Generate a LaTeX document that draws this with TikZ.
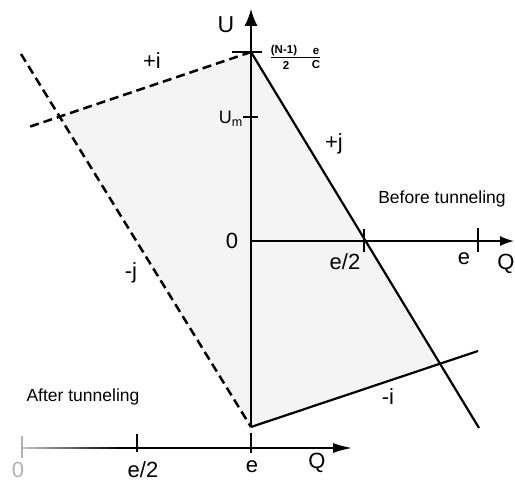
\documentclass[tikz,border=0pt]{standalone}
\usepackage{fontspec}
\setmainfont{Liberation Sans}
\usetikzlibrary{arrows.meta}
\begin{document}
\begin{tikzpicture}[x=1pt,y=-1pt,
  solidline/.style={line width=2.2pt,black},
  dashline/.style={line width=2.5pt,black,dash pattern=on 9pt off 5pt},
  axis/.style={line width=1.6pt,black},
  tickmark/.style={line width=1.6pt,black},
  lbl/.style={font=\fontsize{22}{24}\selectfont,inner sep=0pt},
  phrase/.style={font=\fontsize{17.5}{20}\selectfont,inner sep=0pt},
  frac/.style={font=\fontsize{11.5}{13}\selectfont\bfseries,inner sep=0pt}]
\useasboundingbox (0,0) rectangle (515,487);
% key points
\coordinate (T) at (251,52);
\coordinate (X) at (60,116);
\coordinate (B) at (251,427);
\coordinate (R) at (438,364);
\coordinate (jEnd) at (479,428);
\coordinate (iEnd) at (478,351);
\coordinate (jdStart) at (21,54);
\coordinate (idEnd) at (26,128);
\coordinate (O) at (251,241);
\coordinate (Qtip) at (514,241);
\coordinate (Utip) at (251,9);
\coordinate (Lg) at (120,448);
\coordinate (Ltip) at (352,448);
% shaded region
\fill[gray!9] (T) -- (X) -- (B) -- (R) -- cycle;
% axes
\draw[axis,-{Latex[length=17pt,width=13pt]}] (B) -- (Utip);
\draw[axis,-{Latex[length=14pt,width=10pt]}] (O) -- (Qtip);
\shade[left color=gray!45,right color=black] (22,447.2) rectangle (120,448.8);
\draw[axis,-{Latex[length=19pt,width=10pt]}] (Lg) -- (Ltip);
% ticks
\draw[tickmark] (232,52) -- (262,52);
\draw[tickmark] (243,117) -- (258,117);
\draw[tickmark] (364,229) -- (364,252);
\draw[tickmark] (478,228) -- (478,252);
\draw[line width=1.2pt,gray!60] (22,436) -- (22,458);
\draw[tickmark] (137,434) -- (137,452);
\draw[tickmark] (251,433) -- (251,453);
% lines
\draw[solidline] (T) -- (jEnd);
\draw[solidline] (B) -- (iEnd);
\draw[dashline] (jdStart) -- (B);
\draw[dashline] (T) -- (idEnd);
% labels
\node[font=\fontsize{23}{25}\selectfont,inner sep=0pt] (lU) at (226,25) {U};
\node[frac] (fn1) at (284,51) {(N-1)};
\node[frac] (fn2) at (316,51) {e};
\node[frac] (fd1) at (286,65) {2};
\node[frac] (fd2) at (316,65) {C};
\draw[line width=1.1pt] (271,57.5) -- (320,57.5);
\node[font=\fontsize{18}{20}\selectfont,inner sep=0pt,anchor=east] (lUm) at (243,119) {U\textsubscript{m}};
\node[lbl] (lpi) at (152,61) {+i};
\node[lbl] (lpj) at (334,144) {+j};
\node[phrase] (lbt) at (442,199) {Before tunneling};
\node[lbl] (l0u) at (232,241) {0};
\node[lbl] (le2u) at (345,262) {e/2};
\node[lbl] (leu) at (464,259) {e};
\node[lbl] (lQu) at (506,264) {Q};
\node[lbl] (lmj) at (131,273) {-j};
\node[phrase] (lat) at (83,397) {After tunneling};
\node[lbl] (lmi) at (388,397) {-i};
\node[lbl,gray!60] (l0l) at (18,470) {0};
\node[lbl] (le2l) at (143,470) {e/2};
\node[lbl] (lel) at (252,467) {e};
\node[lbl] (lQl) at (317,463) {Q};
\end{tikzpicture}
\end{document}
